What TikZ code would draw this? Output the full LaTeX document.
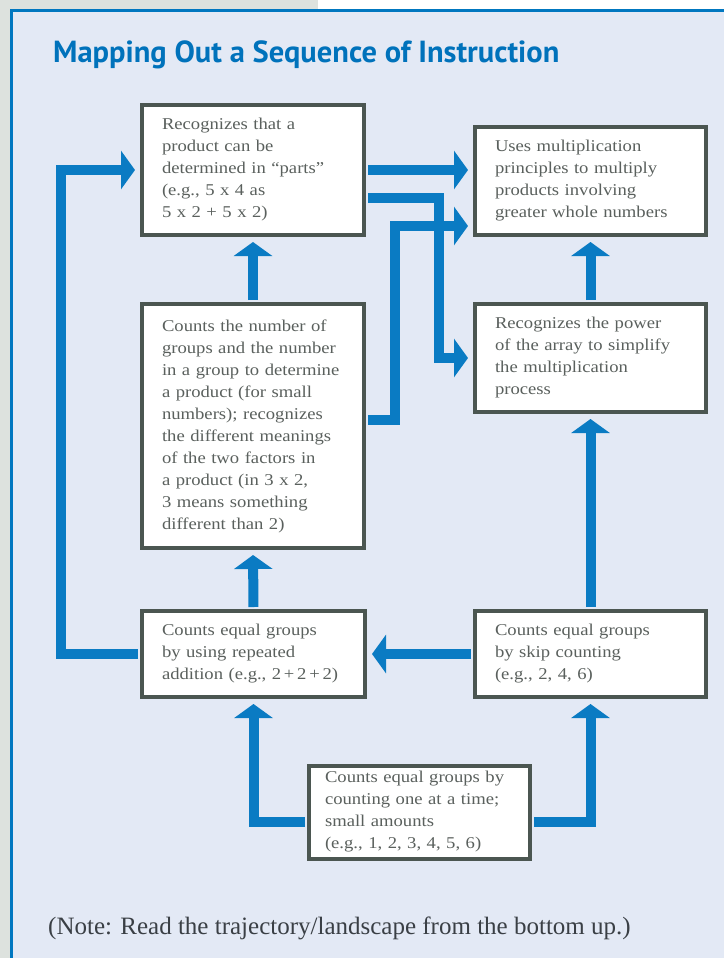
\documentclass[tikz,border=0pt]{standalone}
\usepackage{fontspec}
\setmainfont{Liberation Serif}
\newfontfamily\titlefamily{PT Sans}
\newfontfamily\stepfamily{Liberation Serif}[FakeStretch=1.13]
\usepackage{tikz}
\usetikzlibrary{arrows.meta,positioning}
\definecolor{panelbg}{HTML}{E3E9F5}
\definecolor{greybg}{HTML}{DDE2DE}
\definecolor{panelline}{HTML}{0077C0}
\definecolor{flowblue}{HTML}{0A7BC3}
\definecolor{boxline}{HTML}{4B5651}
\definecolor{boxtext}{HTML}{5A605D}
\definecolor{titleblue}{HTML}{0072BB}
\definecolor{notetext}{HTML}{3A3F45}
\newcommand{\boxfont}{\stepfamily\fontsize{16.5}{22}\selectfont}
\tikzset{stepbox/.style={draw=boxline, line width=4pt, fill=white,
           text=boxtext, align=left, inner xsep=20pt, inner ysep=6pt,
           font=\boxfont},
         flow/.style={draw=flowblue, line width=10pt,
           -{Triangle[width=38pt,length=14pt]},
           shorten >=5pt, shorten <=2pt}}

\begin{document}
\begin{tikzpicture}[x=1pt,y=-1pt]
\useasboundingbox (0,0) rectangle (724,958);
% page and panel
\fill[greybg] (0,0) rectangle (724,958);
\fill[white] (318,0) rectangle (724,10);
\fill[panelbg] (10,9) rectangle (724,958);
\draw[panelline, line width=3pt] (11.5,958) -- (11.5,10.5) -- (724,10.5);
\node[anchor=base west, inner sep=0pt, text=titleblue,
      font=\titlefamily\bfseries\fontsize{30.5}{32}\selectfont] (title) at (53,63)
  {Mapping Out a Sequence of Instruction};
% steps
\node[stepbox, minimum width=222pt, minimum height=130pt, text width=182pt] (parts) at (253,170)
  {Recognizes that a\\ product can be\\ determined in “parts”\\ (e.g., 5 x 4 as\\ 5 x 2 + 5 x 2)};
\node[stepbox, minimum width=231pt, minimum height=108pt, text width=191pt] (greater) at (590.5,181)
  {Uses multiplication\\ principles to multiply\\ products involving\\ greater whole numbers};
\node[stepbox, minimum width=231pt, minimum height=108pt, text width=191pt] (array) at (590.5,358)
  {Recognizes the power\\ of the array to simplify\\ the multiplication\\ process};
\node[stepbox, minimum width=222pt, minimum height=244pt, text width=182pt] (number) at (253,426)
  {Counts the number of\\ groups and the number\\ in a group to determine\\ a product (for small\\ numbers); recognizes\\ the different meanings\\ of the two factors in\\ a product (in 3 x 2,\\ 3 means something\\ different than 2)};
\node[stepbox, minimum width=223pt, minimum height=86pt, text width=183pt] (addition) at (253.5,654)
  {Counts equal groups\\ by using repeated\\ addition (e.g., 2\,+\,2\,+\,2)};
\node[stepbox, minimum width=231pt, minimum height=86pt, text width=191pt] (skip) at (590.5,654)
  {Counts equal groups\\ by skip counting\\ (e.g., 2, 4, 6)};
\node[stepbox, inner xsep=16pt, minimum width=221pt, minimum height=91pt, text width=189pt] (ones) at (419.5,812)
  {Counts equal groups by\\ counting one at a time;\\ small amounts\\ (e.g., 1, 2, 3, 4, 5, 6)};
% connectors
\draw[flow] ([yshift=-10pt]ones.west) -| (addition.south);
\draw[flow] ([yshift=-10pt]ones.east) -| (skip.south);
\draw[flow] (skip.west) -- (addition.east);
\draw[flow] (addition.north) -- (number.south);
\draw[flow] (skip.north) -- (array.south);
\draw[flow] (addition.west) -| ([xshift=-79pt]parts.west) -- (parts.west);
\draw[flow] (number.north) -- (parts.south);
\draw[flow] (array.north) -- (greater.south);
\draw[flow] (parts.east) -- (parts.east -| greater.west);
\draw[flow] ([yshift=-28pt]parts.east) -| ([xshift=-34pt]array.west) -- (array.west);
\draw[flow] ([yshift=6pt]number.east) -| ([xshift=-78pt,yshift=-45pt]greater.west)
  -- ([yshift=-45pt]greater.west);
% note
\node[anchor=base west, inner sep=0pt, text=notetext,
      font=\fontsize{25}{28}\selectfont] (note) at (48,934)
  {(Note: Read the trajectory/landscape from the bottom up.)};
\end{tikzpicture}
\end{document}
